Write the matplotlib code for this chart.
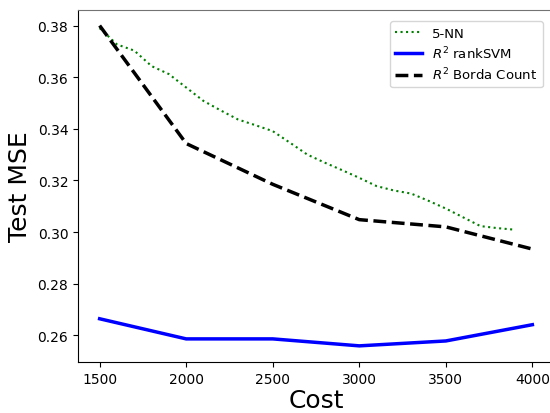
import numpy as np
import matplotlib
matplotlib.use('Agg')
import matplotlib.pyplot as plt

# Costs and test MSE
knn_cost = np.arange(1500, 4000, 100)
knn_mse = [0.3790, 0.3727, 0.3703, 0.3643, 0.3612, 0.3560, 0.3508, 0.3471,
           0.3436, 0.3414, 0.3391, 0.3346, 0.3300, 0.3269, 0.3240, 0.3210,
           0.3178, 0.3161, 0.3149, 0.3121, 0.3091, 0.3057, 0.3023, 0.3015,
           0.3009]

cost = [1500, 2000, 2500, 3000, 3500, 4000]
ranksvm_mse = [0.2664, 0.2586, 0.2586, 0.2559, 0.2578, 0.2641]
borda_mse = [0.3800, 0.3343, 0.3185, 0.3048, 0.3020, 0.2934]

fig = plt.figure(figsize=(5.5, 4.14), dpi=100)
ax = fig.add_axes([0.1418, 0.1235, 0.8655, 0.851])

ax.plot(knn_cost, knn_mse, ':', color='green', lw=1.5, label='5-NN')
ax.plot(cost, ranksvm_mse, '-', color='blue', lw=2.5, label=r'$R^2$ rankSVM')
ax.plot(cost, borda_mse, '--', color='black', lw=2.5, label=r'$R^2$ Borda Count')

ax.set_xlabel('Cost', fontsize=18, labelpad=2)
ax.set_ylabel('Test MSE', fontsize=18)
ax.set_xticks(cost)
ax.spines['right'].set_visible(False)
ax.spines['top'].set_color('0.45')
ax.legend(loc='upper right', fontsize=9.5, labelspacing=0.35,
          bbox_to_anchor=(0.99, 0.985))

fig.savefig('out.png', dpi=100)
